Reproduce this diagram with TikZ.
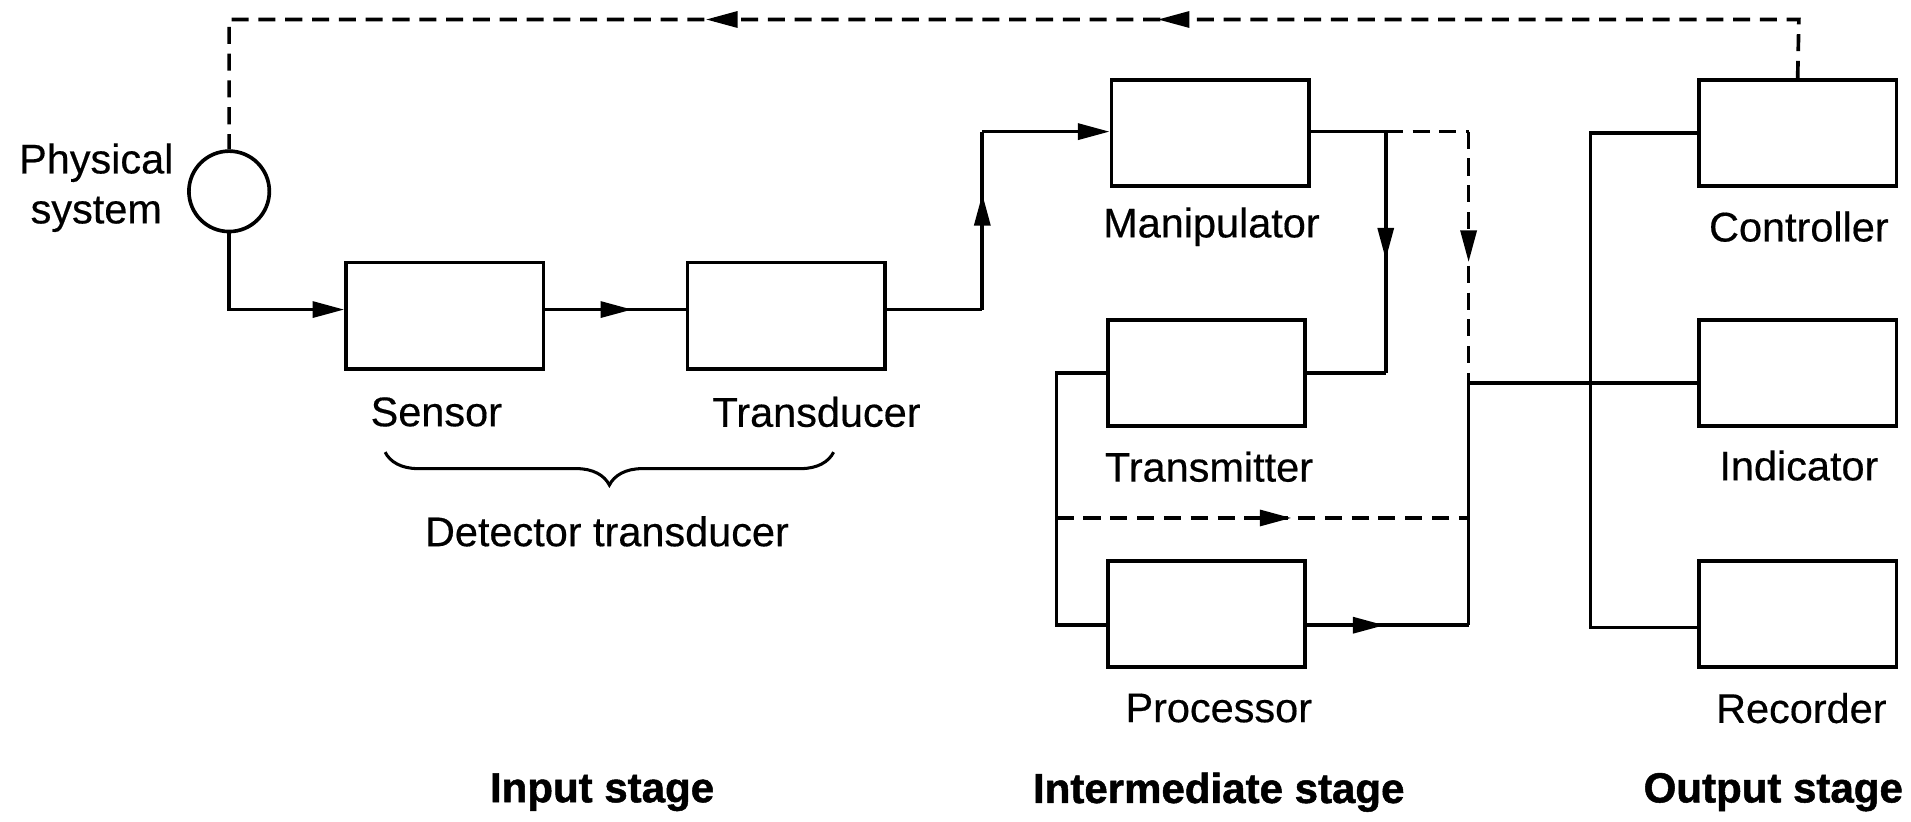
\documentclass[tikz,border=0pt]{standalone}
\usepackage{fontspec}
\setmainfont{Liberation Sans}[FakeBold=0.4, BoldFeatures={FakeBold=1.2}]
\usetikzlibrary{arrows.meta,decorations.markings,decorations.pathreplacing}
\begin{document}
\begin{tikzpicture}[x=1pt,y=-1pt,
  line width=3pt,
  every node/.style={font=\fontsize{34pt}{41pt}\selectfont},
  box/.style={draw, line width=3pt, minimum width=162pt, minimum height=87pt, inner sep=0pt},
  lbl/.style={inner sep=0pt, anchor=center},
  stagelbl/.style={inner sep=0pt, font=\fontsize{34.5pt}{41pt}\selectfont\bfseries},
  dsh/.style={dash pattern=on 14pt off 8pt},
  tip/.style={-{Triangle[length=26pt,width=13pt]}},
  arrowat/.style={postaction={decorate}, decoration={markings, mark=at position #1 with {\arrow{Triangle[length=26pt,width=13pt]}}}},
  arrowtwo/.style 2 args={postaction={decorate}, decoration={markings, mark=at position #1 with {\arrow{Triangle[length=26pt,width=13pt]}}, mark=at position #2 with {\arrow{Triangle[length=26pt,width=13pt]}}}}
]
\useasboundingbox (0,0) rectangle (1568,674);

% nodes
\node[draw, circle, line width=3pt, minimum size=66pt, inner sep=0pt] (phy) at (188,157) {};
\node[box] (sen) at (365,259) {};
\node[box] (tra) at (645,259) {};
\node[box] (man) at (993,109) {};
\node[box] (tsm) at (990,306) {};
\node[box] (pro) at (990,504) {};
\node[box] (con) at (1475,109) {};
\node[box] (ind) at (1475,306) {};
\node[box] (rec) at (1475,504) {};

% labels
\node[lbl, align=center] (phyl) at (79,154) {Physical\\system};
\node[lbl] (senl) at (358,338) {Sensor};
\node[lbl] (tral) at (670,338) {Transducer};
\node[lbl] (detl) at (498,436) {Detector transducer};
\node[lbl] (manl) at (994,186) {Manipulator};
\node[lbl] (tsml) at (992,383) {Transmitter};
\node[lbl] (prol) at (1000,581) {Processor};
\node[lbl] (conl) at (1476,186) {Controller};
\node[lbl] (indl) at (1476,382) {Indicator};
\node[lbl] (recl) at (1478,581) {Recorder};
\node[stagelbl] (s1) at (494,650) {Input stage};
\node[stagelbl] (s2) at (1000,650) {Intermediate stage};
\node[stagelbl] (s3) at (1455,650) {Output stage};

% coordinates
\coordinate (ttop) at (1476,16);
\coordinate (ptop) at (188,16);
\coordinate (senw) at ([yshift=5pt]sen.west);
\coordinate (sene) at ([yshift=5pt]sen.east);
\coordinate (traw) at ([yshift=5pt]tra.west);
\coordinate (trae) at ([yshift=5pt]tra.east);
\coordinate (up) at (806,254);
\coordinate (upt) at (806,108);
\coordinate (manw) at ([yshift=1pt]man.west);
\coordinate (mane) at ([yshift=1pt]man.east);
\coordinate (mr) at (1137,108);
\coordinate (mrd) at (1137,306);
\coordinate (dr) at (1205,108);
\coordinate (drd) at (1205,314);
\coordinate (tl) at (867,306);
\coordinate (tld) at (867,513);
\coordinate (prow) at ([yshift=-9pt]pro.west);
\coordinate (proe) at ([yshift=-9pt]pro.east);
\coordinate (dl) at (867,425);
\coordinate (dlr) at (1205,425);
\coordinate (pr) at (1205,513);
\coordinate (indw) at ([yshift=-8pt]ind.west);
\coordinate (recw) at ([yshift=-11pt]rec.west);
\coordinate (oc) at (1305,109);
\coordinate (or) at (1305,515);

% feedback dashed line
\draw[dsh, arrowtwo={0.398}{0.655}] (con.north) -- (ttop) -- (ptop) -- (phy.north);

% input stage
\draw[tip] (phy.south) |- (senw);
\draw[arrowat=0.62] (sene) -- (traw);
\draw (trae) -- (up);
\draw[arrowat=0.65] (up) -- (upt);
\draw[tip] (upt) -- (manw);

% intermediate
\draw (mane) -- (mr);
\draw[arrowat=0.53] (mr) -- (mrd);
\draw (mrd) -- (tsm.east);
\draw[dsh] (mr) -- (dr);
\draw[dsh, arrowat=0.52] (dr) -- (drd);
\draw (tsm.west) -- (tl) -- (tld) -- (prow);
\draw[dsh, arrowat=0.57] (dl) -- (dlr);
\draw[arrowat=0.48] (proe) -- (pr);
\draw (pr) -- (drd) -- (indw);

% output
\draw (con.west) -- (oc) -- (or) -- (recw);

% brace
\draw[line width=2.5pt, decorate, decoration={brace, mirror, amplitude=27pt}] (316,371) -- (684,371);
\end{tikzpicture}
\end{document}
